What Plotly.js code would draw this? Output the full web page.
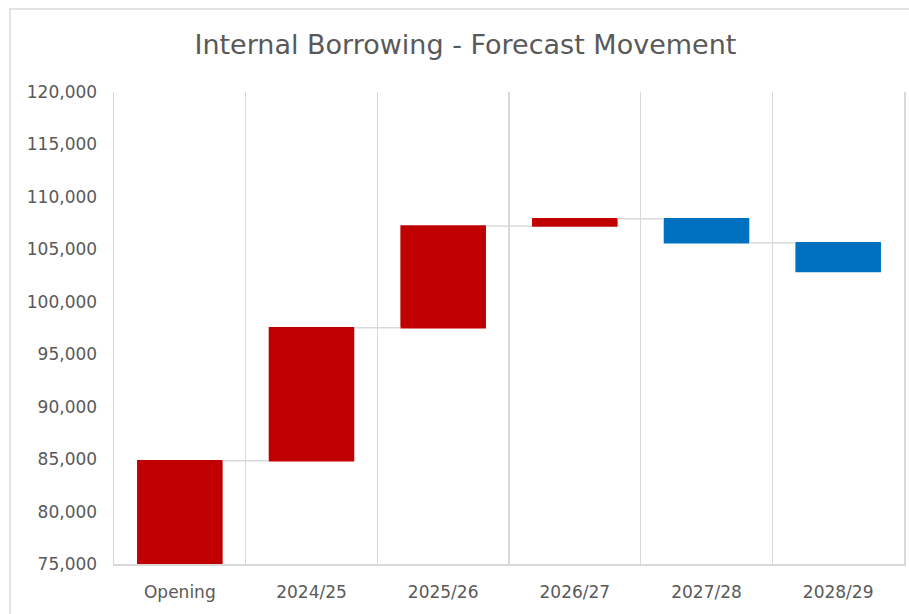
<!DOCTYPE html>
<html>
<head>
<meta charset="utf-8">
<script src="https://cdn.plot.ly/plotly-3.0.1.min.js"></script>
<style>
  html, body { margin: 0; padding: 0; background: #fff; }
  #wrap { position: relative; width: 909px; height: 614px; overflow: hidden; }
  #chart { width: 909px; height: 614px; }
  #frame { position: absolute; left: 9px; top: 8px; width: 910px; height: 620px; border: 2px solid #e3e3e3; pointer-events: none; box-sizing: border-box; }
</style>
</head>
<body>
<div id="wrap">
  <div id="chart"></div>
  <div id="frame"></div>
</div>
<script>
const categories = ["Opening", "2024/25", "2025/26", "2026/27", "2027/28", "2028/29"];
const measures = ["absolute", "relative", "relative", "relative", "relative", "relative"];
const values = [84850, 12670, 9700, 700, -2290, -2740];
const yTickValues = [75000, 80000, 85000, 90000, 95000, 100000, 105000, 110000, 115000, 120000];

const FONT = "'DejaVu Sans', sans-serif";
const GREY = "#595959";

const trace = {
  type: "waterfall",
  x: categories,
  y: values,
  measure: measures,
  increasing: { marker: { color: "#C00000", line: { width: 0 } } },
  decreasing: { marker: { color: "#0070C0", line: { width: 0 } } },
  totals: { marker: { color: "#C00000", line: { width: 0 } } },
  connector: { mode: "between", line: { color: "#d9d9d9", width: 1.5 } },
  hoverinfo: "x+y"
};

const layout = {
  width: 909,
  height: 614,
  margin: { l: 114, r: 5, t: 92, b: 50 },
  paper_bgcolor: "rgba(0,0,0,0)",
  plot_bgcolor: "#fff",
  showlegend: false,
  waterfallgap: 0.35,
  title: {
    text: "Internal Borrowing - Forecast Movement",
    font: { family: FONT, size: 27, color: GREY },
    x: 0.512, xanchor: "center",
    y: 0.927, yanchor: "middle"
  },
  xaxis: {
    type: "category",
    tickson: "boundaries",
    showgrid: true,
    gridcolor: "#d9d9d9",
    gridwidth: 1.5,
    showline: true,
    linecolor: "#d9d9d9",
    linewidth: 1.5,
    ticks: "",
    ticklabelstandoff: 12,
    tickfont: { family: FONT, size: 17, color: GREY },
    fixedrange: true
  },
  yaxis: {
    range: [75000, 120000],
    tickvals: yTickValues,
    tickformat: ",",
    showgrid: false,
    zeroline: false,
    showline: true,
    mirror: true,
    linecolor: "#d9d9d9",
    linewidth: 1.5,
    ticks: "",
    ticklabelstandoff: 12,
    tickfont: { family: FONT, size: 17, color: GREY },
    fixedrange: true
  }
};

Plotly.newPlot("chart", [trace], layout, { displayModeBar: false, staticPlot: true });
</script>
</body>
</html>
